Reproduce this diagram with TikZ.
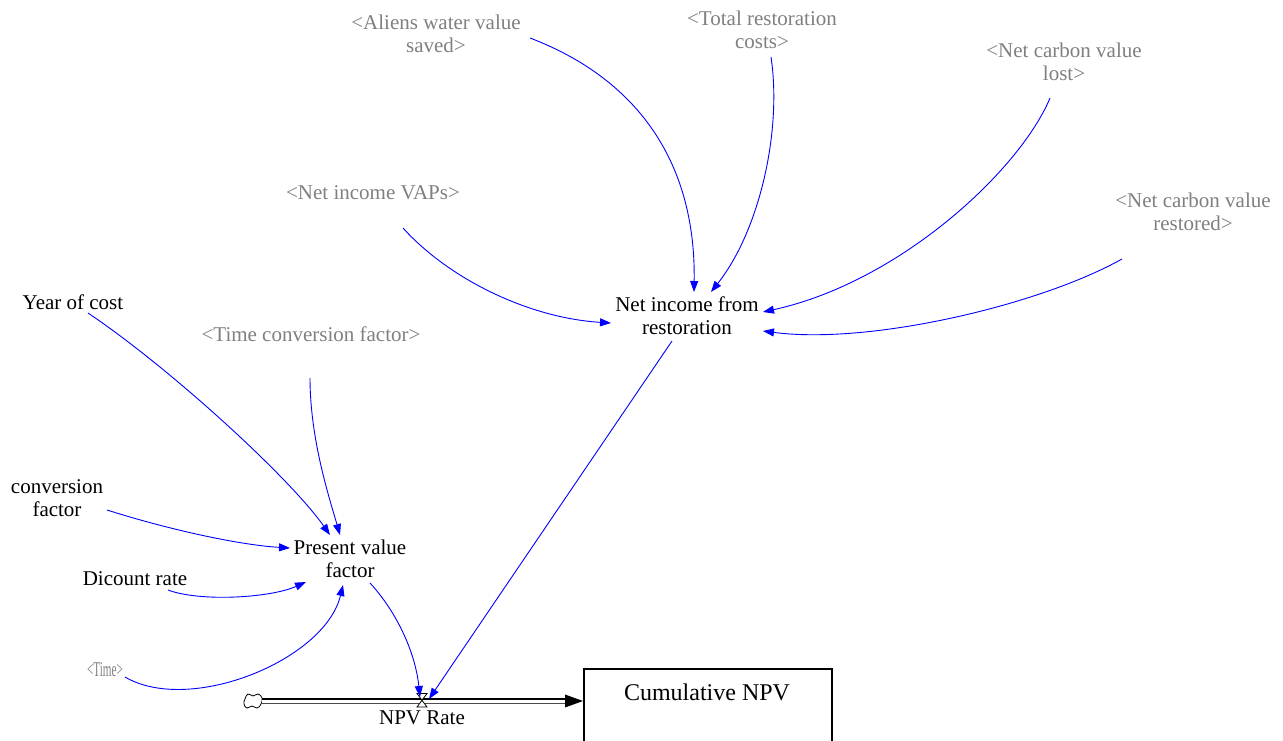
\documentclass[tikz,border=0pt]{standalone}
\usepackage{fontspec}
\usepackage{graphicx}
\setmainfont{Liberation Serif}
\newfontfamily\tnr{Liberation Serif}
\usetikzlibrary{arrows.meta}
\definecolor{lnk}{RGB}{0,0,255}
\definecolor{shadow}{RGB}{128,128,128}
\begin{document}
\begin{tikzpicture}[x=1pt,y=-1pt,
  every node/.style={inner sep=0pt,font=\tnr\fontsize{21}{23}\selectfont},
  var/.style={align=center,text=black},
  ghost/.style={align=center,text=shadow},
  link/.style={draw=lnk,line width=0.9pt,-{Triangle[length=11pt,width=8pt]}},
  pipe/.style={line width=1.1pt}
]
\clip (0,0) rectangle (1283,740);
\fill[white] (0,0) rectangle (1283,740);

% nodes
\node[ghost] (aliens) at (436,34) {<Aliens water value\\saved>};
\node[ghost] (total) at (762,30) {<Total restoration\\costs>};
\node[ghost] (lost) at (1064,62) {<Net carbon value\\lost>};
\node[ghost] (restored) at (1193,212) {<Net carbon value\\restored>};
\node[ghost] (vaps) at (373,193) {<Net income VAPs>};
\node[var] (netinc) at (687,316) {Net income from\\restoration};
\node[var] (year) at (73,302) {Year of cost};
\node[ghost] (tcf) at (311,334) {<Time conversion factor>};
\node[var] (conv) at (57,498) {conversion\\factor};
\node[var] (pvf) at (350,559) {Present value\\factor};
\node[var] (dicount) at (135,579) {Dicount rate};
\node[ghost] (timeN) at (105,670) {\scalebox{0.53}[1]{<Time>}};

% stock
\node[draw=black,line width=2pt,minimum width=248pt,minimum height=100pt,anchor=north west] (stock) at (583,668) {};
\node[font=\tnr\fontsize{24}{26}\selectfont] (stocklabel) at (707,692) {Cumulative NPV};

% valve and cloud
\coordinate (valve) at (422,700);
\coordinate (cloud) at (253,701);
\draw[black,line width=0.8pt,fill=white] plot[smooth cycle,tension=0.8] coordinates
  {(245,699) (248,694) (253,696) (258,694) (262,698) (261,704) (257,708) (252,706) (247,708) (244,704)};

% pipe
\draw[black,pipe] (262,699) -- (568,699);
\draw[black!70,pipe] (262,703.5) -- (568,703.5);
\draw[white,line width=2.2pt] (262,701.3) -- (566,701.3);
\fill[black] (stock.west |- valve) ++(0,1) -- ++(-18,-6.5) -- ++(0,13) -- cycle;

\draw[black,line width=0.8pt,fill=white] (417,693.5) -- (427,693.5) -- (417,707) -- (427,707) -- cycle;
\node[var] (npvrate) at (422,718) {NPV Rate};

% links
\draw[link] ([shift={(94,4)}]aliens.center) .. controls (640,80) and (696,165) .. ([shift={(7,-24)}]netinc.center);
\draw[link] ([shift={(9,27)}]total.center) .. controls (782,130) and (760,230) .. ([shift={(24,-24)}]netinc.center);
\draw[link] ([shift={(-14,36)}]lost.center) .. controls (1020,170) and (900,282) .. ([shift={(76,-4)}]netinc.center);
\draw[link] ([shift={(-71,47)}]restored.center) .. controls (1040,305) and (870,345) .. ([shift={(76,15)}]netinc.center);
\draw[link] ([shift={(30,35)}]vaps.center) .. controls (450,280) and (530,318) .. ([shift={(-76,7)}]netinc.center);
\draw[link] ([shift={(-15,25)}]netinc.center) -- ([shift={(7,-1)}]valve);
\draw[link] ([shift={(15,11)}]year.center) .. controls (170,368) and (290,478) .. ([shift={(-20,-24)}]pvf.center);
\draw[link] ([shift={(-1,44)}]tcf.center) .. controls (310,440) and (330,500) .. ([shift={(-10,-24)}]pvf.center);
\draw[link] ([shift={(50,12)}]conv.center) .. controls (170,530) and (240,545) .. ([shift={(-60,-11)}]pvf.center);
\draw[link] ([shift={(33,11)}]dicount.center) .. controls (200,602) and (270,598) .. ([shift={(-44,23)}]pvf.center);
\draw[link] ([shift={(20,7)}]timeN.center) .. controls (190,715) and (325,660) .. ([shift={(-7,26)}]pvf.center);
\draw[link] ([shift={(20,24)}]pvf.center) .. controls (395,610) and (415,650) .. ([shift={(-2,-3)}]valve);
\end{tikzpicture}
\end{document}
